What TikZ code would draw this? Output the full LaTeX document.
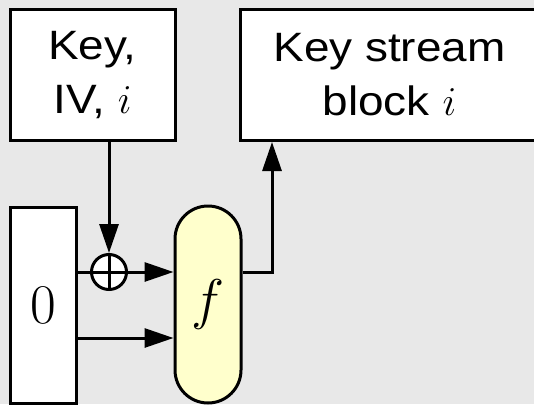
\RequirePackage{fix-cm}
\documentclass[tikz,border=0pt]{standalone}
\usepackage{fontspec}
\setsansfont{Liberation Sans}[FakeStretch=1.12]
\usetikzlibrary{positioning, arrows.meta, calc}
\usepackage{xcolor}
\definecolor{bggray}{HTML}{E8E8E8}
\definecolor{fyellow}{HTML}{FFFFCC}

\begin{document}
\begin{tikzpicture}[x=1pt, y=-1pt, line width=3pt,
    font=\sffamily\fontsize{41}{54}\selectfont,
    >={Triangle[length=29pt, width=19pt]}]
    \fill[bggray] (0,0) rectangle (534,404);
    \useasboundingbox (0,0) rectangle (534,404);
    \clip (0,0) rectangle (534,404);
    \node[draw, fill=white, inner sep=0pt, align=center,
          minimum width=165pt, minimum height=131pt] (key) at (92.5,75)
          {Key,\\IV, $i$};
    \node[draw, fill=white, inner sep=0pt, align=center,
          minimum width=298pt, minimum height=131pt] (stream) at (389.5,75)
          {Key stream\\block $i$};
    \node[draw, fill=white, inner sep=0pt,
          minimum width=66pt, minimum height=196pt,
          font=\fontsize{56}{60}\selectfont] (zero) at (43,305) {$0$};
    \node[draw, fill=fyellow, rounded corners=33pt, inner sep=0pt,
          minimum width=66pt, minimum height=197pt,
          font=\fontsize{56}{60}\selectfont] (f) at (208,304.5) {$f$};
    \node[draw, fill=white, circle, inner sep=0pt, minimum size=35pt] (xor) at (109,272) {};
    \draw (xor.north) -- (xor.south) (xor.west) -- (xor.east);
    \draw[->] (key.south -| xor) -- (xor.north);
    \draw (zero.east |- xor) -- (xor.west);
    \draw[->] (xor.east) -- (f.west |- xor);
    \draw[->] ([yshift=-33pt]zero.east) -- ([yshift=-33pt]zero.east -| f.west);
    \draw[->] (f.east |- xor) -| ([xshift=33pt]stream.south west);
\end{tikzpicture}
\end{document}
